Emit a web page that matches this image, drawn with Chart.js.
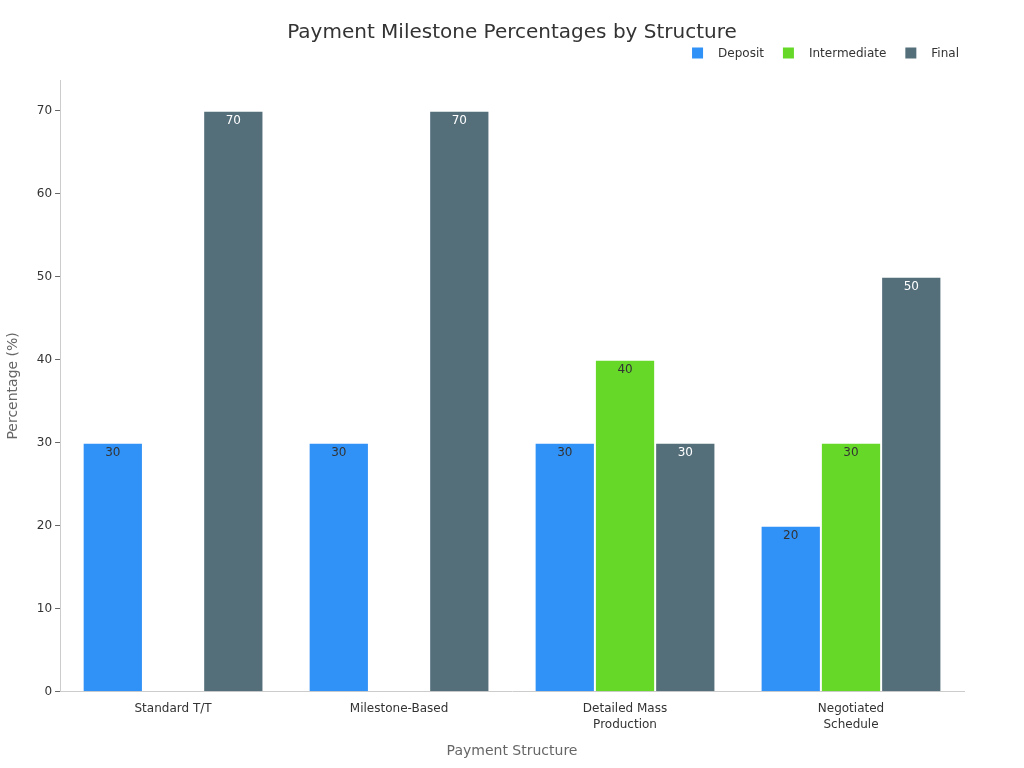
<!DOCTYPE html>
<html>
<head>
<meta charset="utf-8">
<script src="https://cdn.jsdelivr.net/npm/chart.js@4.4.1/dist/chart.umd.min.js"></script>
<style>
  html, body { margin: 0; padding: 0; background: #fff; }
  #wrap { width: 1024px; height: 768px; }
</style>
</head>
<body>
<div id="wrap"><canvas id="milestoneChart" width="1024" height="768"></canvas></div>
<script>
// data
const structures = ["Standard T/T", "Milestone-Based", ["Detailed Mass", "Production"], ["Negotiated", "Schedule"]];
const depositPct = [30, 30, 30, 20];
const intermediatePct = [0, 0, 40, 30];
const finalPct = [70, 70, 30, 50];
const yTicks = [0, 10, 20, 30, 40, 50, 60, 70];

const FONT = "'DejaVu Sans', sans-serif";
const TITLE = 'Payment Milestone Percentages by Structure';

// value printed inside the top of each bar (no datalabels plugin here)
const barValueLabels = {
    id: 'barValueLabels',
    afterDatasetsDraw(chart) {
        const ctx = chart.ctx;
        ctx.save();
        ctx.font = "12px " + FONT;
        ctx.textAlign = 'center';
        ctx.textBaseline = 'middle';
        chart.data.datasets.forEach((ds, i) => {
            chart.getDatasetMeta(i).data.forEach((bar, j) => {
                const v = ds.data[j];
                if (!v) return;
                ctx.fillStyle = ds.labelColor;
                ctx.fillText(String(v), bar.x, bar.y + 10);
            });
        });
        ctx.restore();
    }
};

// title centred on the whole canvas + right aligned legend, like the reference
const headerPlugin = {
    id: 'header',
    afterDraw(chart) {
        const ctx = chart.ctx;
        ctx.save();
        ctx.fillStyle = '#333333';
        ctx.font = "20px " + FONT;
        ctx.textAlign = 'center';
        ctx.textBaseline = 'middle';
        ctx.fillText(TITLE, chart.width / 2, 33);

        // legend
        ctx.font = "12px " + FONT;
        ctx.textAlign = 'left';
        const box = 11, gapText = 15, gapItem = 19, right = 959, cy = 53;
        const items = chart.data.datasets.map(ds => ({ label: ds.label, color: ds.backgroundColor, w: ctx.measureText(ds.label).width }));
        let total = items.reduce((s, it) => s + box + gapText + it.w, 0) + gapItem * (items.length - 1);
        let x = right - total;
        items.forEach(it => {
            ctx.fillStyle = it.color;
            ctx.fillRect(x, cy - box / 2, box, box);
            ctx.fillStyle = '#333333';
            ctx.fillText(it.label, x + box + gapText, cy + 1);
            x += box + gapText + it.w + gapItem;
        });
        ctx.restore();
    }
};

function makeSet(label, data, color, labelColor) {
    return {
        label: label,
        data: data,
        backgroundColor: color,
        borderColor: 'rgba(255,255,255,0.6)',
        borderWidth: 1,
        categoryPercentage: 0.8,
        barPercentage: 1.0,
        labelColor: labelColor
    };
}

new Chart(document.getElementById('milestoneChart'), {
    type: 'bar',
    data: {
        labels: structures,
        datasets: [
            makeSet('Deposit', depositPct, '#3091F6', '#333333'),
            makeSet('Intermediate', intermediatePct, '#66D928', '#333333'),
            makeSet('Final', finalPct, '#546F7A', '#ffffff')
        ]
    },
    plugins: [barValueLabels, headerPlugin],
    options: {
        responsive: false,
        animation: false,
        layout: { padding: { left: 1, right: 60, top: 80, bottom: 4 } },
        plugins: {
            title: { display: false },
            legend: { display: false },
            tooltip: { enabled: false }
        },
        scales: {
            x: {
                grid: { display: false, drawTicks: true, tickLength: 5, color: '#888888' },
                border: { color: '#cccccc' },
                ticks: { color: '#333333', font: { family: FONT, size: 12, lineHeight: 1.35 }, padding: 4 },
                title: {
                    display: true,
                    text: 'Payment Structure',
                    color: '#666666',
                    font: { family: FONT, size: 14 },
                    padding: { top: 6 }
                }
            },
            y: {
                min: 0,
                max: 73.7,
                afterBuildTicks: (axis) => { axis.ticks = yTicks.map(v => ({ value: v })); },
                grid: { drawOnChartArea: false, drawTicks: true, tickLength: 5, color: '#666666' },
                border: { color: '#cccccc' },
                ticks: { color: '#333333', font: { family: FONT, size: 12 }, padding: 3 },
                title: {
                    display: true,
                    text: 'Percentage (%)',
                    color: '#666666',
                    font: { family: FONT, size: 14 },
                    padding: { bottom: 12 }
                }
            }
        }
    }
});
</script>
</body>
</html>
